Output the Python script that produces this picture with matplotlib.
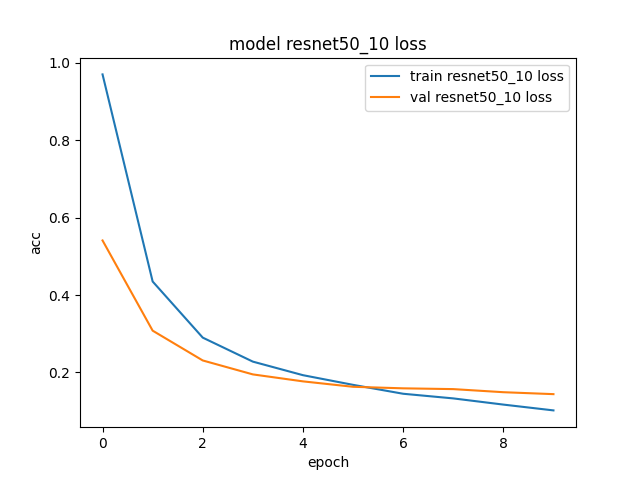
import matplotlib
matplotlib.use("Agg")
import matplotlib.pyplot as plt

epochs = list(range(10))
train_loss = [0.970, 0.435, 0.290, 0.228, 0.193, 0.168, 0.145, 0.133, 0.117, 0.102]
val_loss = [0.541, 0.308, 0.231, 0.195, 0.177, 0.163, 0.159, 0.157, 0.149, 0.144]

fig, ax = plt.subplots(figsize=(6.4, 4.8), dpi=100)
ax.plot(epochs, train_loss, label="train resnet50_10 loss")
ax.plot(epochs, val_loss, label="val resnet50_10 loss")
ax.set_title("model resnet50_10 loss")
ax.set_xlabel("epoch")
ax.set_ylabel("acc")
ax.legend(loc="upper right")
fig.savefig("out.png")
